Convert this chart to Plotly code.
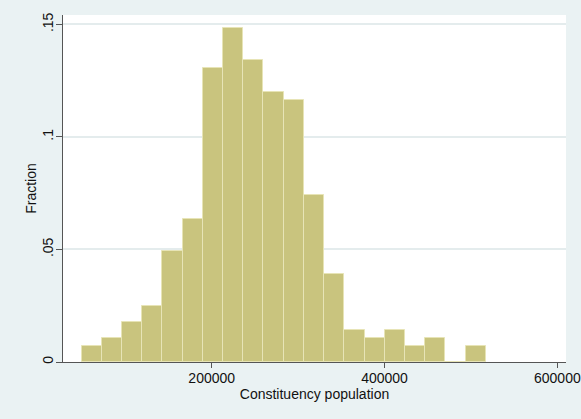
import plotly.graph_objects as go

# Histogram of constituency populations (fraction of constituencies per bin)
bin_start = 49500
bin_width = 23380
fractions = [0.0071, 0.0106, 0.0177, 0.0247, 0.0495, 0.0636, 0.1307, 0.1484,
             0.1343, 0.1201, 0.1166, 0.0742, 0.0389, 0.0141, 0.0106, 0.0141,
             0.0071, 0.0106, 0.0, 0.0071]

x_ticks = [200000, 400000, 600000]
x_tick_labels = ["200000", "400000", "600000"]
y_ticks = [0, 0.05, 0.1, 0.15]
y_tick_labels = ["0", ".05", ".1", ".15"]

centers = [bin_start + bin_width * (i + 0.5) for i in range(len(fractions))]

BG = "#eaf2f3"
FONT = "Arial, Liberation Sans, sans-serif"

fig = go.Figure(
    go.Bar(
        x=centers,
        y=fractions,
        width=[bin_width] * len(fractions),
        marker=dict(color="#c9c47e", line=dict(color="#e7e4b6", width=1)),
        hoverinfo="x+y",
    )
)

fig.update_layout(
    width=581,
    height=419,
    margin=dict(l=63, r=15, t=15, b=57),
    paper_bgcolor=BG,
    plot_bgcolor="white",
    bargap=0,
    showlegend=False,
    font=dict(family=FONT, size=14, color="#111"),
)

fig.update_xaxes(
    range=[27900, 610000],
    automargin=False,
    tickvals=x_ticks,
    ticktext=x_tick_labels,
    ticks="outside",
    ticklen=5,
    tickcolor="#555",
    ticklabelstandoff=-2,
    showline=True,
    linecolor="#555",
    linewidth=1,
    showgrid=False,
    zeroline=False,
    title=dict(text="Constituency population", standoff=0, font=dict(size=14)),
)

fig.update_yaxes(
    range=[0, 0.1542],
    automargin=False,
    tickvals=y_ticks,
    ticktext=y_tick_labels,
    tickangle=-90,
    ticks="outside",
    ticklen=6,
    tickcolor="#555",
    ticklabelstandoff=-3,
    showline=True,
    linecolor="#555",
    linewidth=1,
    showgrid=True,
    gridcolor="#e4eced",
    gridwidth=1.5,
    zeroline=False,
    title=dict(text="Fraction", standoff=0, font=dict(size=14)),
)

fig.write_html("out.html")
